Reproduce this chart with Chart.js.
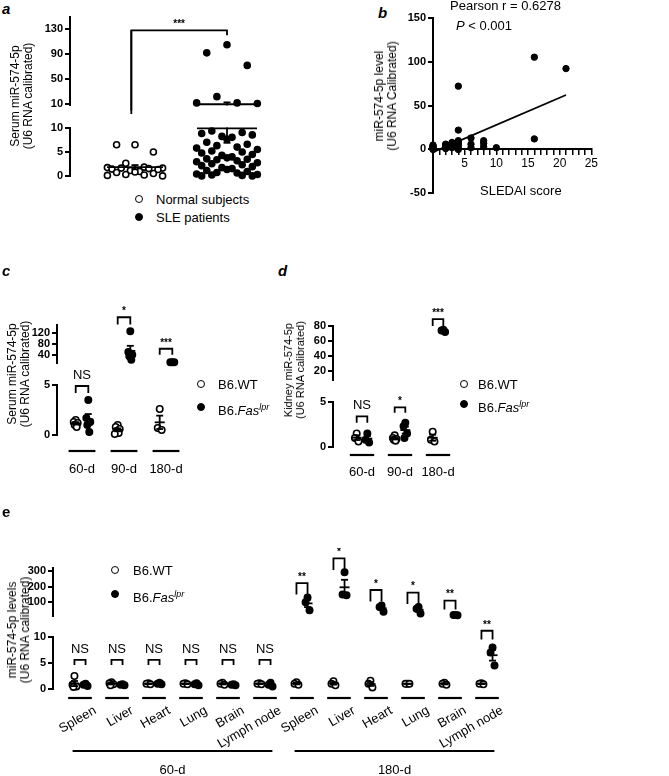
<!DOCTYPE html>
<html><head><meta charset="utf-8">
<script src="https://cdn.jsdelivr.net/npm/chart.js@4/dist/chart.umd.min.js"></script>
<style>
body{margin:0;width:669px;height:776px;position:relative;background:#fff;font-family:"Liberation Sans",Arial,sans-serif;color:#000;overflow:hidden}
canvas{position:absolute}
.t{position:absolute;white-space:nowrap;font-size:13px;line-height:14px}
.r{position:absolute;transform:translate(-50%,-50%) rotate(-90deg);text-align:center;font-size:12px;line-height:13px;white-space:nowrap}
.L{position:absolute;font-weight:bold;font-style:italic;font-size:15px;font-family:"Liberation Sans",Arial,sans-serif}
.dot{position:absolute;width:6px;height:6px;border-radius:50%;border:1.6px solid #000}
</style></head><body>
<script>
// ---------- DATA ----------
const aGroups = ["Normal subjects","SLE patients"];
const aNormal = [6.5,6.5,5,2.7,1.9,1.8,1.7,1.7,1.6,1.5,1.4,1.2,1.0,0.9,0.8,0.6,0.4,0.3,0.2,0.1];
const aSLE = [105,92,72,22,12,12,11,9.3,9,8.8,8.5,8.2,8,7.6,7,6.6,6.3,6,5.8,5.5,5.2,5,4.8,4.5,4.3,4,3.8,3.6,3.5,3.4,3.2,3,2.8,2.6,2.4,2.2,2,1.8,1.6,1.4,1.2,1,0.8,0.7,0.5,0.4,0.3,0.2,0.1,0.1];
const bSLEDAI = [0,0,0,0,0,0,0,0,2,2,2,2,3,3,3,4,4,4,4,4,4,4,6,6,6,8,8,8,10,16,16,21];
const bLevel  = [0,1,2,3,4,5,1.5,0.5,1,3,5,6,2,5,8,0,3,6,10,22,72,8,2,6,13,3,7,10,2,105,12,92];
const bFit = [[0,-3],[21,62]];
const cDays = ["60-d","90-d","180-d"];
const cWT  = [[1.5,1.3,1.2,1.0,0.8],[1.0,0.8,0.6,0.4,0.2,0.1],[2.6,0.7,0.5]];
const cFas = [[3.5,1.7,1.3,1.0,0.3],[125,50,40,35,22],[13,13,13]];
const cSig = ["NS","*","***"];
const dDays = ["60-d","90-d","180-d"];
const dWT  = [[1.5,1.0,0.6],[1.3,1.0,0.9,0.8,0.7],[1.7,0.8,0.6]];
const dFas = [[1.5,0.8,0.5],[2.7,2.3,1.5,1.0],[75,74,72]];
const dSig = ["NS","*","***"];
const eTissues = ["Spleen","Liver","Heart","Lung","Brain","Lymph node","Spleen","Liver","Heart","Lung","Brain","Lymph node"];
const eAges = ["60-d","180-d"];
const eWT = [[2.5,0.8,0.5,0.4],[1.3,1.1,0.9,0.7],[1.1,1,0.9],[1.1,1,0.9],[1.2,1,0.8],[1.1,1,0.9],
             [1.3,1,0.8],[1.5,1.0,0.7],[1.6,1.0,0.3],[1,1,1],[1.2,1,0.8],[1.1,1,0.9]];
const eFas = [[1.0,0.8,0.6],[0.9,0.8,0.7],[1.2,1,0.9],[1.1,0.9,0.7],[0.9,0.8,0.7],[1.2,0.8,0.5],
              [130,100,50],[290,150,145],[80,70,40],[70,60,30],[20,20,18],[8,7,4.5]];
const eSig = ["NS","NS","NS","NS","NS","NS","**","*","*","*","**","**"];

// ---------- HELPERS ----------
const FONT = '"Liberation Sans",Arial,sans-serif';
const TICKFONT = {family:FONT,size:11,weight:'bold'};
const AW = 36;
const mean = a => a.reduce((s,v)=>s+v,0)/a.length;
const sem = a => { if(a.length<2) return 0; const m=mean(a); return Math.sqrt(a.reduce((s,v)=>s+(v-m)*(v-m),0)/(a.length-1))/Math.sqrt(a.length); };
const JIT = [0,-2,2,-1,1,-3,3,-1.5,1.5,-2.5,2.5,-0.5,0.5];
function jit(vals, cx, spread){ return vals.map((v,i)=>({x: cx + spread*JIT[i%JIT.length]/3, y:v})); }

function mk(o){
  const cv = document.createElement('canvas');
  const w = o.R - o.L + AW, h = o.bot - o.top + o.pt + o.pb;
  const off = o.top - o.pt;
  cv.width = w; cv.height = h;
  cv.style.left = (o.L-AW)+'px'; cv.style.top = off+'px';
  cv.style.width = w+'px'; cv.style.height = h+'px';
  document.body.appendChild(cv);
  const xmin = -(o.c0 - o.L)/o.sp, xmax = xmin + (o.R - o.L)/o.sp;
  const fmin = o.fmin!==undefined?o.fmin:o.ymin-0.001, fmax=o.fmax!==undefined?o.fmax:o.ymax+0.001;
  const datasets = [];
  (o.groups||[]).forEach(g=>{
    const pts = jit(g.vals, g.x, g.spread).filter(p=>p.y>=fmin && p.y<=fmax);
    datasets.push({type:'scatter',data:pts,clip:false,pointRadius:g.r||3.2,pointBorderWidth:1.6,
      pointBorderColor:'#000',pointBackgroundColor:g.open?'#fff':'#000'});
  });
  (o.extraSets||[]).forEach(s=>datasets.push(s));
  const plug = {id:'ann',afterDatasetsDraw(ch){
    const ctx=ch.ctx, X=v=>ch.scales.x.getPixelForValue(v), Y=v=>ch.scales.y.getPixelForValue(v);
    const a=ch.chartArea;
    ctx.save(); ctx.strokeStyle='#000'; ctx.fillStyle='#000'; ctx.lineWidth=1.8;
    (o.groups||[]).forEach(g=>{
      if(g.noErr) return;
      const m=mean(g.vals), s=sem(g.vals), cx=X(g.x), hw=g.mw||7, cw=3.5;
      const cl=v=>Math.max(a.top,Math.min(a.bottom,Y(v)));
      const y1=cl(m+s), y2=cl(m-s);
      if(y1!==y2){ctx.beginPath();ctx.moveTo(cx,y1);ctx.lineTo(cx,y2);ctx.stroke();}
      [m+s,m-s].forEach(v=>{ if(v>=o.ymin&&v<=o.ymax){ctx.beginPath();ctx.moveTo(cx-cw,Y(v));ctx.lineTo(cx+cw,Y(v));ctx.stroke();}});
      if(m>=o.ymin&&m<=o.ymax){ctx.beginPath();ctx.moveTo(cx-hw,Y(m));ctx.lineTo(cx+hw,Y(m));ctx.stroke();}
    });
    (o.brackets||[]).forEach(b=>{
      const x1=X(b.x1),x2=X(b.x2),yt=Y(b.top);
      ctx.lineWidth=1.8;ctx.beginPath();ctx.moveTo(x1,Y(b.l1));ctx.lineTo(x1,yt);ctx.lineTo(x2,yt);ctx.lineTo(x2,Y(b.l2));ctx.stroke();
      ctx.font=(b.t==='NS'?'13px ':'bold 10px ')+FONT;ctx.textAlign='center';ctx.textBaseline='bottom';
      ctx.fillText(b.t,(x1+x2)/2,yt-(b.t==='NS'?4:1));
    });
    if(o.extra) o.extra(ctx,X,Y,a,p=>p-off);
    ctx.restore();
  }};
  const yopt = {type:'linear',min:o.ymin,max:o.ymax,
      afterBuildTicks:s=>{s.ticks=o.ticks.map(v=>({value:v}));},
      afterFit:s=>{s.width=AW;},
      border:{display:true,color:'#000',width:2},
      grid:{drawOnChartArea:false,drawTicks:true,tickLength:5,color:'#000',lineWidth:2},
      ticks:{color:'#000',font:TICKFONT,padding:2}};
  return new Chart(cv,{type:'scatter',data:{datasets},
    options:{responsive:false,animation:false,devicePixelRatio:1,
      layout:{padding:{top:o.pt,bottom:o.pb,left:0,right:0},autoPadding:false},
      plugins:{legend:{display:false},tooltip:{enabled:false}},
      scales:{x:o.xScale||{type:'linear',min:xmin,max:xmax,display:false},y:yopt}},
    plugins:[plug]});
}
function html(cls,txt,x,y,extra){const d=document.createElement('div');d.className=cls;d.innerHTML=txt;d.style.left=x+'px';d.style.top=y+'px';if(extra)Object.assign(d.style,extra);document.body.appendChild(d);return d;}
function legendDot(x,y,open){html('dot','',x-4.6,y-4.6,{background:open?'#fff':'#000'});}
const FAS='B6.<i>Fas</i><sup style="font-size:9px;font-style:italic">lpr</sup>';

// ---------- PANEL A ----------
{
  const g=[{x:0,vals:aNormal,open:true,spread:0.3,mw:28,r:3},{x:1,vals:aSLE,open:false,spread:0.33,mw:30,r:3}];
  const base={L:70,R:275,c0:135,sp:92,groups:g};
  mk(Object.assign({},base,{top:12,bot:112.4,ymin:8,ymax:150,fmin:10.5,ticks:[10,50,90,130],pt:4,pb:2,
     brackets:[{x1:-0.04,x2:1,top:128,l1:0,l2:120,t:'***'}],
     extra:(ctx,X,Y,a)=>{ctx.beginPath();ctx.moveTo(X(-0.04),Y(128));ctx.lineTo(X(-0.04),a.bottom+12);ctx.stroke();}}));
  mk(Object.assign({},base,{top:125,bot:179,ymin:0,ymax:10,fmax:10.4,ticks:[0,5,10],pt:6,pb:6}));
  html('L','a',2,0);
  html('r','Serum miR-574-5p<br>(U6 RNA calibrated)',22,96);
  legendDot(140,200,true); html('t','Normal subjects',156,193);
  legendDot(140,218,false); html('t','SLE patients',156,211);
}
// ---------- PANEL B ----------
{
  const pts=bSLEDAI.map((x,i)=>({x,y:bLevel[i]}));
  mk({L:433,R:600,top:15,bot:196,ymin:-50,ymax:150,ticks:[-50,0,50,100,150],pt:6,pb:6,c0:433,sp:1,
    extraSets:[{type:'scatter',data:pts,clip:false,pointRadius:3.2,pointBackgroundColor:'#000',pointBorderColor:'#000'},
      {type:'line',data:bFit.map(p=>({x:p[0],y:p[1]})),borderColor:'#000',borderWidth:1.8,pointRadius:0,clip:false}],
    xScale:{type:'linear',min:0,max:25,position:{y:0},
      border:{display:true,color:'#000',width:2},
      grid:{drawOnChartArea:false,drawTicks:true,tickLength:5,color:'#000',lineWidth:1.5},
      afterBuildTicks:s=>{s.ticks=[1,2,3,4,5,6,7,8,9,10,11,12,13,14,15,16,17,18,19,20,21,22,23,24,25].map(v=>({value:v}));},
      ticks:{color:'#000',font:{family:FONT,size:12},autoSkip:false,maxRotation:0,padding:2,callback:v=>v%5===0?v:''}}});
  html('L','b',378,4);
  html('r','miR-574-5p level<br>(U6 RNA Calibrated)',386,96);
  html('t','Pearson r = 0.6278',450,-1);
  html('t','<i>P</i> &lt; 0.001',456,19);
  html('t','SLEDAI score',480,184);
}
// ---------- PANEL C ----------
function daysExtra(labels,yl,yt){return (ctx,X,Y,a,P)=>{ctx.lineWidth=2.2;ctx.font='13px '+FONT;ctx.textAlign='center';ctx.textBaseline='middle';
  labels.forEach((l,i)=>{ctx.beginPath();ctx.moveTo(X(i-0.32),P(yl));ctx.lineTo(X(i+0.32),P(yl));ctx.stroke();ctx.fillText(l,X(i),P(yt));});};}
{
  const g=[];cWT.forEach((v,i)=>{g.push({x:i-0.15,vals:v,open:true,spread:0.07,mw:5});g.push({x:i+0.15,vals:cFas[i],open:false,spread:0.07,mw:5});});
  const base={L:57,R:190,c0:82,sp:42,groups:g};
  mk(Object.assign({},base,{top:325,bot:370,ymin:9,ymax:148,ticks:[40,80,120],pt:25,pb:2,
    brackets:[{x1:0.85,x2:1.15,top:176,l1:150,l2:150,t:'*'},{x1:1.85,x2:2.15,top:62,l1:40,l2:40,t:'***'}]}));
  mk(Object.assign({},base,{top:385,bot:435,ymin:0,ymax:5,ticks:[0,5],pt:22,pb:45,
    brackets:[{x1:-0.15,x2:0.15,top:4.9,l1:4.2,l2:4.2,t:'NS'}],extra:daysExtra(cDays,451,469)}));
  html('L','c',2,262);
  html('r','Serum miR-574-5p<br>(U6 RNA calibrated)',19,374);
  legendDot(202,385,true); html('t','B6.WT',218,378);
  legendDot(202,408,false); html('t',FAS,218,400);
}
// ---------- PANEL D ----------
{
  const g=[];dWT.forEach((v,i)=>{g.push({x:i-0.14,vals:v,open:true,spread:0.07,mw:5});g.push({x:i+0.14,vals:dFas[i],open:false,spread:0.07,mw:5});});
  const base={L:333,R:460,c0:362,sp:38,groups:g};
  mk(Object.assign({},base,{top:326,bot:387,ymin:8,ymax:80,ticks:[20,40,60,80],pt:22,pb:2,
    brackets:[{x1:1.86,x2:2.14,top:89,l1:80,l2:80,t:'***'}]}));
  mk(Object.assign({},base,{top:402,bot:447,ymin:0,ymax:5,ticks:[0,5],pt:22,pb:45,
    brackets:[{x1:-0.14,x2:0.14,top:3.4,l1:2.7,l2:2.7,t:'NS'},{x1:0.86,x2:1.14,top:4.4,l1:3.8,l2:3.8,t:'*'}],
    extra:daysExtra(dDays,455,472)}));
  html('L','d',278,262);
  html('r','Kidney miR-574-5p<br>(U6 RNA calibrated)',294,370,{fontSize:'11px',lineHeight:'12px'});
  legendDot(465,385,true); html('t','B6.WT',478,378);
  legendDot(465,405,false); html('t',FAS,478,397);
}
// ---------- PANEL E ----------
{
  const g=[];eWT.forEach((v,i)=>{g.push({x:i-0.15,vals:v,open:true,spread:0.08,mw:5});g.push({x:i+0.15,vals:eFas[i],open:false,spread:0.08,mw:5});});
  const base={L:53,R:505,c0:80,sp:37,groups:g};
  const upTops=[222,378,178,161,111], upLegs=[150,305,105,90,55];
  const ub=[];for(let k=0;k<5;k++)ub.push({x1:6+k-0.15,x2:6+k+0.15,top:upTops[k],l1:upLegs[k],l2:upLegs[k],t:eSig[6+k]});
  mk(Object.assign({},base,{top:568,bot:623,ymin:11,ymax:317,ticks:[100,200,300],pt:20,pb:2,brackets:ub}));
  const lb=[];for(let k=0;k<6;k++)lb.push({x1:k-0.15,x2:k+0.15,top:5.6,l1:4.6,l2:4.6,t:eSig[k]});
  lb.push({x1:10.85,x2:11.15,top:11.2,l1:9.5,l2:9.5,t:eSig[11]});
  mk(Object.assign({},base,{top:637,bot:689,ymin:0,ymax:10,ticks:[0,5,10],pt:26,pb:87,brackets:lb,
    extra:(ctx,X,Y,a,P)=>{
      ctx.lineWidth=2.2;ctx.font='13px '+FONT;
      eTissues.forEach((t,i)=>{ctx.beginPath();ctx.moveTo(X(i-0.32),P(698));ctx.lineTo(X(i+0.32),P(698));ctx.stroke();
        ctx.save();ctx.translate(X(i)+12,P(704));ctx.rotate(-30*Math.PI/180);ctx.textAlign='right';ctx.textBaseline='top';ctx.fillText(t,0,0);ctx.restore();});
      ctx.lineWidth=2;ctx.textAlign='center';ctx.textBaseline='middle';
      eAges.forEach((t,j)=>{const i0=j*6,i1=j*6+5;ctx.beginPath();ctx.moveTo(X(i0-0.2),P(751));ctx.lineTo(X(i1+0.2),P(751));ctx.stroke();ctx.fillText(t,(X(i0)+X(i1))/2,P(770));});
    }}));
  html('L','e',2,503,{fontStyle:'normal'});
  html('r','miR-574-5p levels<br>(U6 RNA calibrated)',19,630);
  legendDot(116,571,true); html('t','B6.WT',133,564);
  legendDot(116,595,false); html('t',FAS,133,587);
}
</script>
</body></html>
